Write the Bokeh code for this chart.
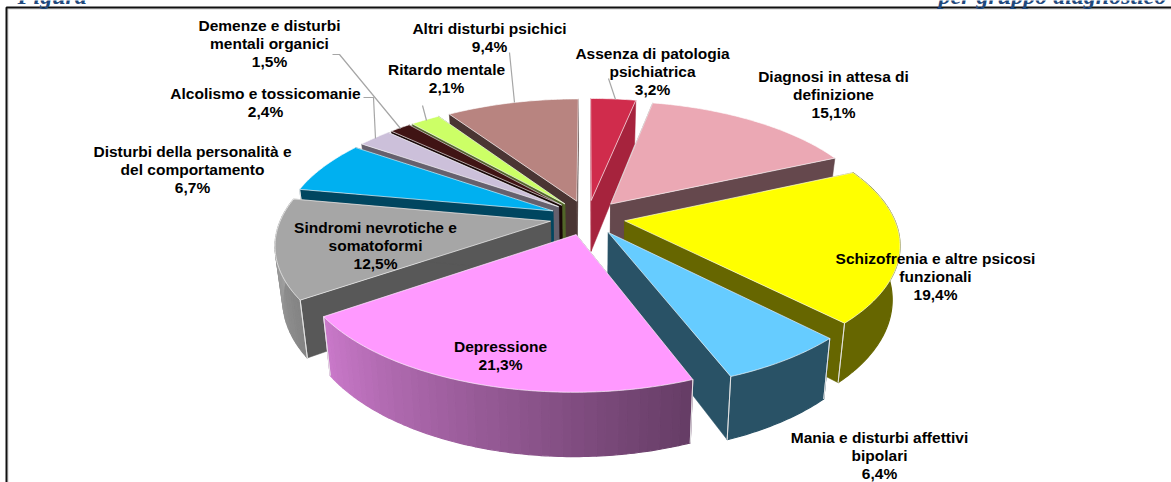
import math
from bokeh.plotting import figure
from bokeh.models import ColumnDataSource, Range1d
from bokeh.core.properties import value
from bokeh.embed import file_html
from bokeh.resources import INLINE

# ---- data (clockwise from 12 o'clock) ----
categories = [
    "Assenza di patologia\npsichiatrica",
    "Diagnosi in attesa di\ndefinizione",
    "Schizofrenia e altre psicosi\nfunzionali",
    "Mania e disturbi affettivi\nbipolari",
    "Depressione",
    "Sindromi nevrotiche e\nsomatoformi",
    "Disturbi della personalità e\ndel comportamento",
    "Alcolismo e tossicomanie",
    "Demenze e disturbi\nmentali organici",
    "Ritardo mentale",
    "Altri disturbi psichici",
]
shares = [3.2, 15.1, 19.4, 6.4, 21.3, 12.5, 6.7, 2.4, 1.5, 2.1, 9.4]
top_colors = [(208, 44, 76), (235, 168, 180), (255, 255, 0), (102, 204, 255),
              (255, 153, 255), (166, 166, 166), (0, 176, 240), (204, 192, 218),
              (64, 20, 20), (204, 255, 102), (184, 132, 128)]
radial_shades = [0.8, 0.43, 0.4, 0.4, 0.4, 0.53, 0.4, 0.5, 0.4, 0.4, 0.4]

# ---- layout ----
W, H = 1171, 482
CX, CY = 587.0, 217.0
BX, AY, K = 269.0, 124.6, 0.169
EXPLODE = 0.14
DEPTH = 52.0
BOTTOM_X = 0.975
label_x = [652, 833, 935, 879, 500, 375, 192, 265, 269, 446, 489]
label_y = [53, 76, 258, 437, 346, 227, 151, 93, 25, 69, 28]
LINE_H = 18.0
leaders = [
    ([608, 615], [78, 99]),
    ([332, 339, 400], [54, 54, 128]),
    ([363, 373, 375], [97, 97, 138]),
    ([422, 426], [105, 120]),
    ([509, 514], [52, 102]),
]


def proj(u, v):
    d = 1 - K * v
    return CX + BX * u / d, CY + AY * v / d


def low(u, v):
    x, y = proj(u, v)
    return CX + (x - CX) * BOTTOM_X, y + DEPTH / (1 - K * v)


def hexc(c, f=1.0):
    return "#%02x%02x%02x" % tuple(min(255, int(round(a * f))) for a in c)


def outer_shade(deg):
    s = max(0.4, min(1.0, 0.4 + (deg - 160) * 0.0052))
    return round(s * 100) / 100


p = figure(width=W, height=H, x_range=Range1d(0, W), y_range=Range1d(H, 0),
           toolbar_location=None, output_backend="svg", min_border=0,
           outline_line_color=None, background_fill_color="white",
           border_fill_color="white")
p.axis.visible = False
p.grid.visible = False

slices = []
cum = 0.0
for i, s in enumerate(shares):
    slices.append((i, cum / 100 * 360, (cum + s) / 100 * 360))
    cum += s
slices.sort(key=lambda t: -math.cos(math.radians((t[1] + t[2]) / 2)))

xs, ys, fills, lines, lalpha, lwidth = [], [], [], [], [], []


def add(px, py, fill, line, a, w):
    xs.append(px); ys.append(py); fills.append(fill)
    lines.append(line); lalpha.append(a); lwidth.append(w)


for i, a0, a1 in slices:
    col = top_colors[i]
    mid = math.radians((a0 + a1) / 2)
    ou, ov = EXPLODE * math.sin(mid), -EXPLODE * math.cos(mid)
    n = max(2, int((a1 - a0) / 0.75))
    degs = [a0 + (a1 - a0) * j / n for j in range(n + 1)]
    pts = [(ou + math.sin(math.radians(d)), ov - math.cos(math.radians(d))) for d in degs]
    radial = hexc(col, radial_shades[i])
    for (u, v) in (pts[0], pts[-1]):
        a = proj(ou, ov); b = proj(u, v); c = low(u, v); e = low(ou, ov)
        add([a[0], b[0], c[0], e[0]], [a[1], b[1], c[1], e[1]], radial, radial, 1, 0.5)
    j = 0
    while j < n:
        sh = outer_shade((degs[j] + degs[j + 1]) / 2)
        k = j
        while k + 1 < n and outer_shade((degs[k + 1] + degs[k + 2]) / 2) == sh:
            k += 1
        run = pts[j:k + 2]
        if max(q[1] for q in run) > -0.05:
            top = [proj(*q) for q in run]
            bot = [low(*q) for q in reversed(run)]
            f = hexc(col, sh)
            add([q[0] for q in top + bot], [q[1] for q in top + bot], f, f, 1, 1.2)
        j = k + 1
    for (u, v) in (pts[0], pts[-1]):
        if v > -0.3:
            a = proj(u, v); c = low(u, v)
            add([a[0], c[0]], [a[1], c[1]], None, "#e8e8e8", 0.8, 1)
    tp = [proj(ou, ov)] + [proj(u, v) for u, v in pts]
    add([q[0] for q in tp], [q[1] for q in tp], hexc(col), "#ffffff", 0.7, 0.9)

src = ColumnDataSource(dict(x=xs, y=ys, f=fills, l=lines, a=lalpha, w=lwidth))
p.patches("x", "y", source=src, fill_color="f", line_color="l", line_alpha="a", line_width="w")

p.multi_line([l[0] for l in leaders], [l[1] for l in leaders], line_color="#a6a6a6", line_width=1.2)

tx, ty, tt = [], [], []
for name, sh, lx, ly in zip(categories, shares, label_x, label_y):
    rows = name.split("\n") + [f"{sh:.1f}%".replace(".", ",")]
    for k, r in enumerate(rows):
        tx.append(lx); ty.append(ly + k * LINE_H); tt.append(r)
p.text(tx, ty, text=tt, text_font=value("Liberation Sans"), text_font_style="bold",
       text_font_size="15.5px", text_align="center", text_baseline="middle", text_color="#000000")

p.line([7.5, 7.5, W], [H, 8.5, 8.5], line_color="#cfcfcf", line_width=1)
p.line([6, 6, W], [H, 7, 7], line_color="#111111", line_width=2)

p.text([17, 938], [-5, -5], text=["Figura", "per gruppo diagnostico"],
       text_font=value("Liberation Serif"), text_font_style="bold italic",
       text_font_size="24px", text_align="left", text_baseline="alphabetic", text_color="#1f497d")

open("out.html", "w").write(file_html(p, INLINE))
